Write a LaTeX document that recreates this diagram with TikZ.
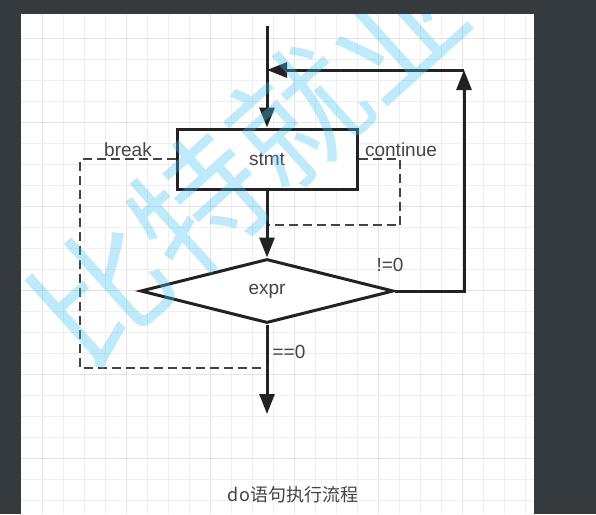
\documentclass[tikz,border=0pt]{standalone}
\usepackage{fontspec}
\setmainfont{Liberation Sans}
\newfontfamily\cjk{Noto Sans CJK SC}
\usetikzlibrary{arrows.meta,shapes.geometric}

\definecolor{pagebg}{HTML}{353A3F}
\definecolor{gridminor}{HTML}{EFEFEF}
\definecolor{gridmajor}{HTML}{E3E3E3}
\definecolor{ink}{HTML}{222222}
\definecolor{labelgray}{HTML}{444444}
\definecolor{wmblue}{RGB}{70,195,240}

\tikzset{
    flow/.style={draw=ink, line width=3pt},
    dashflow/.style={draw=ink!85, line width=2.7pt, dash pattern=on 9pt off 5pt},
    tip/.style={-{Triangle[length=20pt,width=15pt]}},
    lbl/.style={text=labelgray, font=\fontsize{19}{21}\selectfont, inner sep=0pt},
}

\begin{document}
\begin{tikzpicture}[x=1pt, y=-1pt]
    % page and grid panel
    \fill[pagebg] (0,0) rectangle (596,514);
    \useasboundingbox (0,0) rectangle (596,514);
    \fill[white] (21,14) rectangle (534,514);
    \foreach \i in {0,...,23}{
        \pgfmathtruncatemacro{\m}{mod(\i,4)}
        \ifnum\m=0 \def\gc{gridmajor}\else \def\gc{gridminor}\fi
        \draw[\gc, line width=1pt] (42+21*\i,14) -- (42+21*\i,514);
    }
    \foreach \i in {0,...,22}{
        \pgfmathtruncatemacro{\m}{mod(\i,4)}
        \ifnum\m=0 \def\gc{gridmajor}\else \def\gc{gridminor}\fi
        \draw[\gc, line width=1pt] (21,38+21*\i) -- (534,38+21*\i);
    }

    % blocks
    \node[flow, fill=white, rectangle, minimum width=180pt, minimum height=60pt, lbl] (stmt) at (267,159) {stmt};
    \node[flow, fill=white, diamond, minimum width=253pt, minimum height=64pt, lbl] (expr) at (267,291) {expr};

    \coordinate (start) at (267,26);
    \coordinate (join) at (267,70);
    \coordinate (back) at (464,70);
    \coordinate (exit) at (267,414);
    \coordinate (brk) at (267,368);
    \coordinate (cnt) at (269,225);

    % solid flow
    \draw[flow, tip] (start) -- (stmt.north);
    \draw[flow, tip] (stmt.south) -- (expr.north);
    \draw[flow, tip] (expr.east) -| (back);
    \draw[flow, tip] (back) -- (join);
    \draw[flow, tip] (expr.south) -- (exit);

    % break / continue
    \draw[dashflow] (stmt.west) -- (80,159) |- (brk);
    \draw[dashflow] (stmt.east) -- (400,159) |- (cnt);

    % labels
    \node[lbl] (breaklbl) at (128,150) {break};
    \node[lbl] (contlbl) at (401,150) {continue};
    \node[lbl] (truelbl) at (390,265) {!=0};
    \node[lbl] (falselbl) at (289,352) {==0};
    \node[lbl, font=\cjk\fontsize{18}{20}\selectfont] (caption) at (293,495) {do语句执行流程};

    % watermark
    \begin{scope}
        \clip (21,14) rectangle (534,514);
        \node[text=wmblue, opacity=0.35, rotate=42, inner sep=0pt,
              font=\cjk\fontsize{132}{134}\selectfont] (mark) at (248,160) {比特就业};
    \end{scope}
\end{tikzpicture}
\end{document}
